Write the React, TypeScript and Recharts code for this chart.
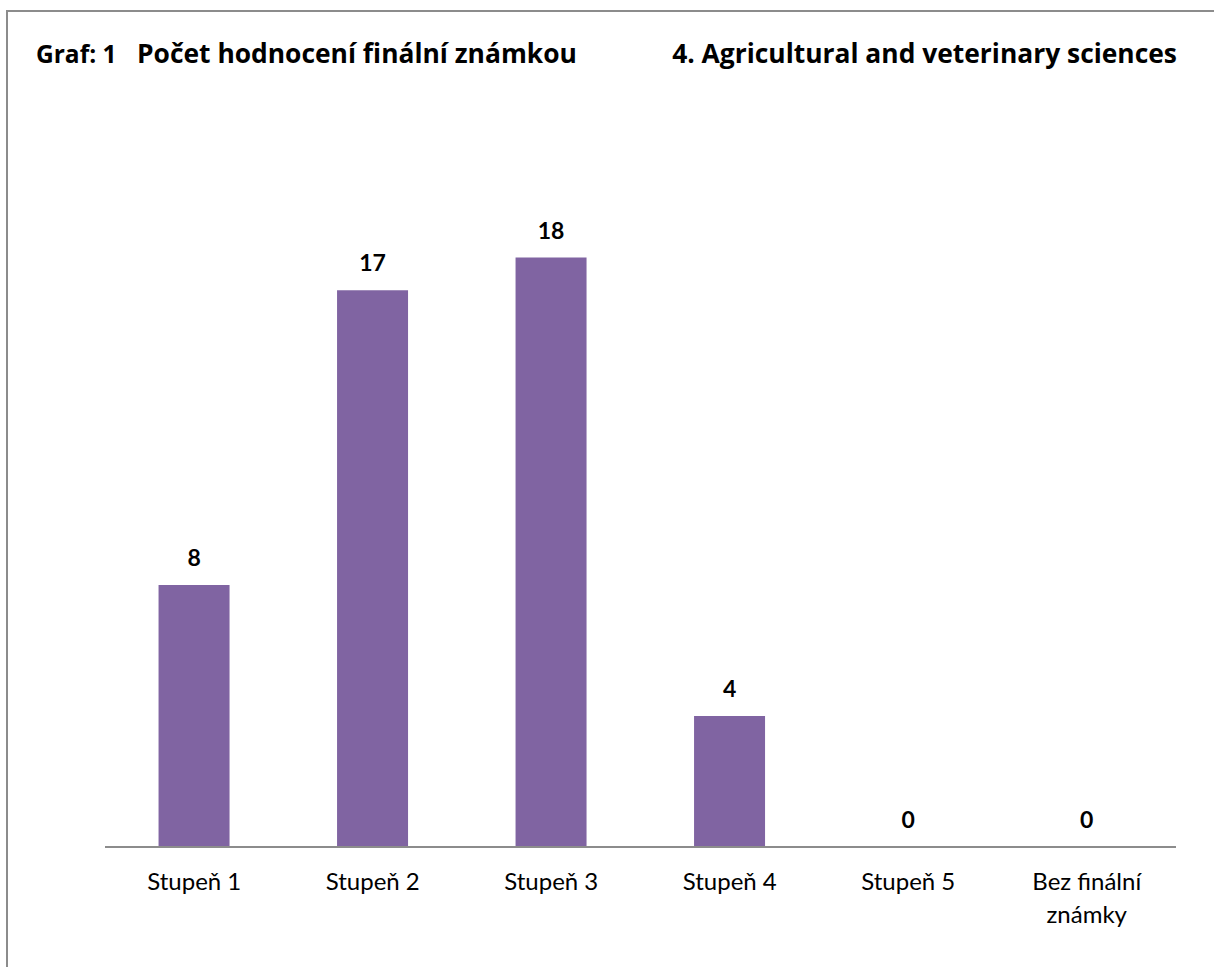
import React from "react";
import { Bar, BarChart, LabelList, XAxis, YAxis } from "recharts";

const categories = ["Stupeň 1", "Stupeň 2", "Stupeň 3", "Stupeň 4", "Stupeň 5", "Bez finální známky"];
const counts = [8, 17, 18, 4, 0, 0];
const chartNo = "Graf: 1";
const chartTitle = "Počet hodnocení finální známkou";
const fieldTitle = "4. Agricultural and veterinary sciences";

const data = categories.map((name, i) => ({ name, count: counts[i] }));

const FONT = "Lato, 'Open Sans', sans-serif";
const TITLE_FONT = "'Open Sans', sans-serif";

const CategoryTick = (props: any) => {
  const { x, y, payload } = props;
  const words = String(payload.value).split(" ");
  // long labels break into two lines, like the original
  const lines =
    words.length > 2
      ? [words.slice(0, 2).join(" "), words.slice(2).join(" ")]
      : [payload.value];
  return (
    <g>
      {lines.map((line: string, i: number) => (
        <text
          key={i}
          x={x}
          y={y + 43 + i * 33}
          textAnchor="middle"
          fill="#000"
          fontFamily={FONT}
          fontSize={24}
        >
          {line}
        </text>
      ))}
    </g>
  );
};

const ValueLabel = (props: any) => {
  const { x, y, width, value } = props;
  return (
    <text
      x={x + width / 2}
      y={y - 19}
      textAnchor="middle"
      fill="#000"
      fontFamily={FONT}
      fontWeight="bold"
      fontSize={23}
    >
      {value}
    </text>
  );
};

export default function App() {
  return (
    <div
      style={{
        position: "absolute",
        left: 0,
        top: 0,
        width: 1214,
        height: 967,
        overflow: "hidden",
        background: "#fff",
      }}
    >
      <div
        style={{
          position: "absolute",
          left: 6,
          top: 10,
          width: 1230,
          height: 980,
          border: "2px solid #8c8c8c",
          boxSizing: "border-box",
        }}
      />
      <div style={{ position: "absolute", left: 0, top: 0 }}>
        <BarChart
          width={1214}
          height={967}
          data={data}
          margin={{ top: 192, right: 38, bottom: 0, left: 105 }}
          barCategoryGap="30%"
        >
          <XAxis
            dataKey="name"
            height={120}
            interval={0}
            tickLine={false}
            tickSize={0}
            tickMargin={0}
            axisLine={{ stroke: "#8c8c8c", strokeWidth: 2 }}
            tick={<CategoryTick />}
          />
          <YAxis hide domain={[0, 20]} />
          <Bar
            dataKey="count"
            fill="#8064a2"
            minPointSize={0.01}
            isAnimationActive={false}
          >
            <LabelList dataKey="count" content={<ValueLabel />} />
          </Bar>
        </BarChart>
      </div>
      <svg
        width={1214}
        height={967}
        style={{ position: "absolute", left: 0, top: 0, pointerEvents: "none" }}
      >
        <g fontFamily={TITLE_FONT} fontWeight="bold" fontSize={26.4} fill="#000">
          <text x={36} y={63} fontSize={24.5}>{chartNo}</text>
          <text x={137} y={63}>{chartTitle}</text>
          <text x={1177} y={63} textAnchor="end">{fieldTitle}</text>
        </g>
      </svg>
    </div>
  );
}
